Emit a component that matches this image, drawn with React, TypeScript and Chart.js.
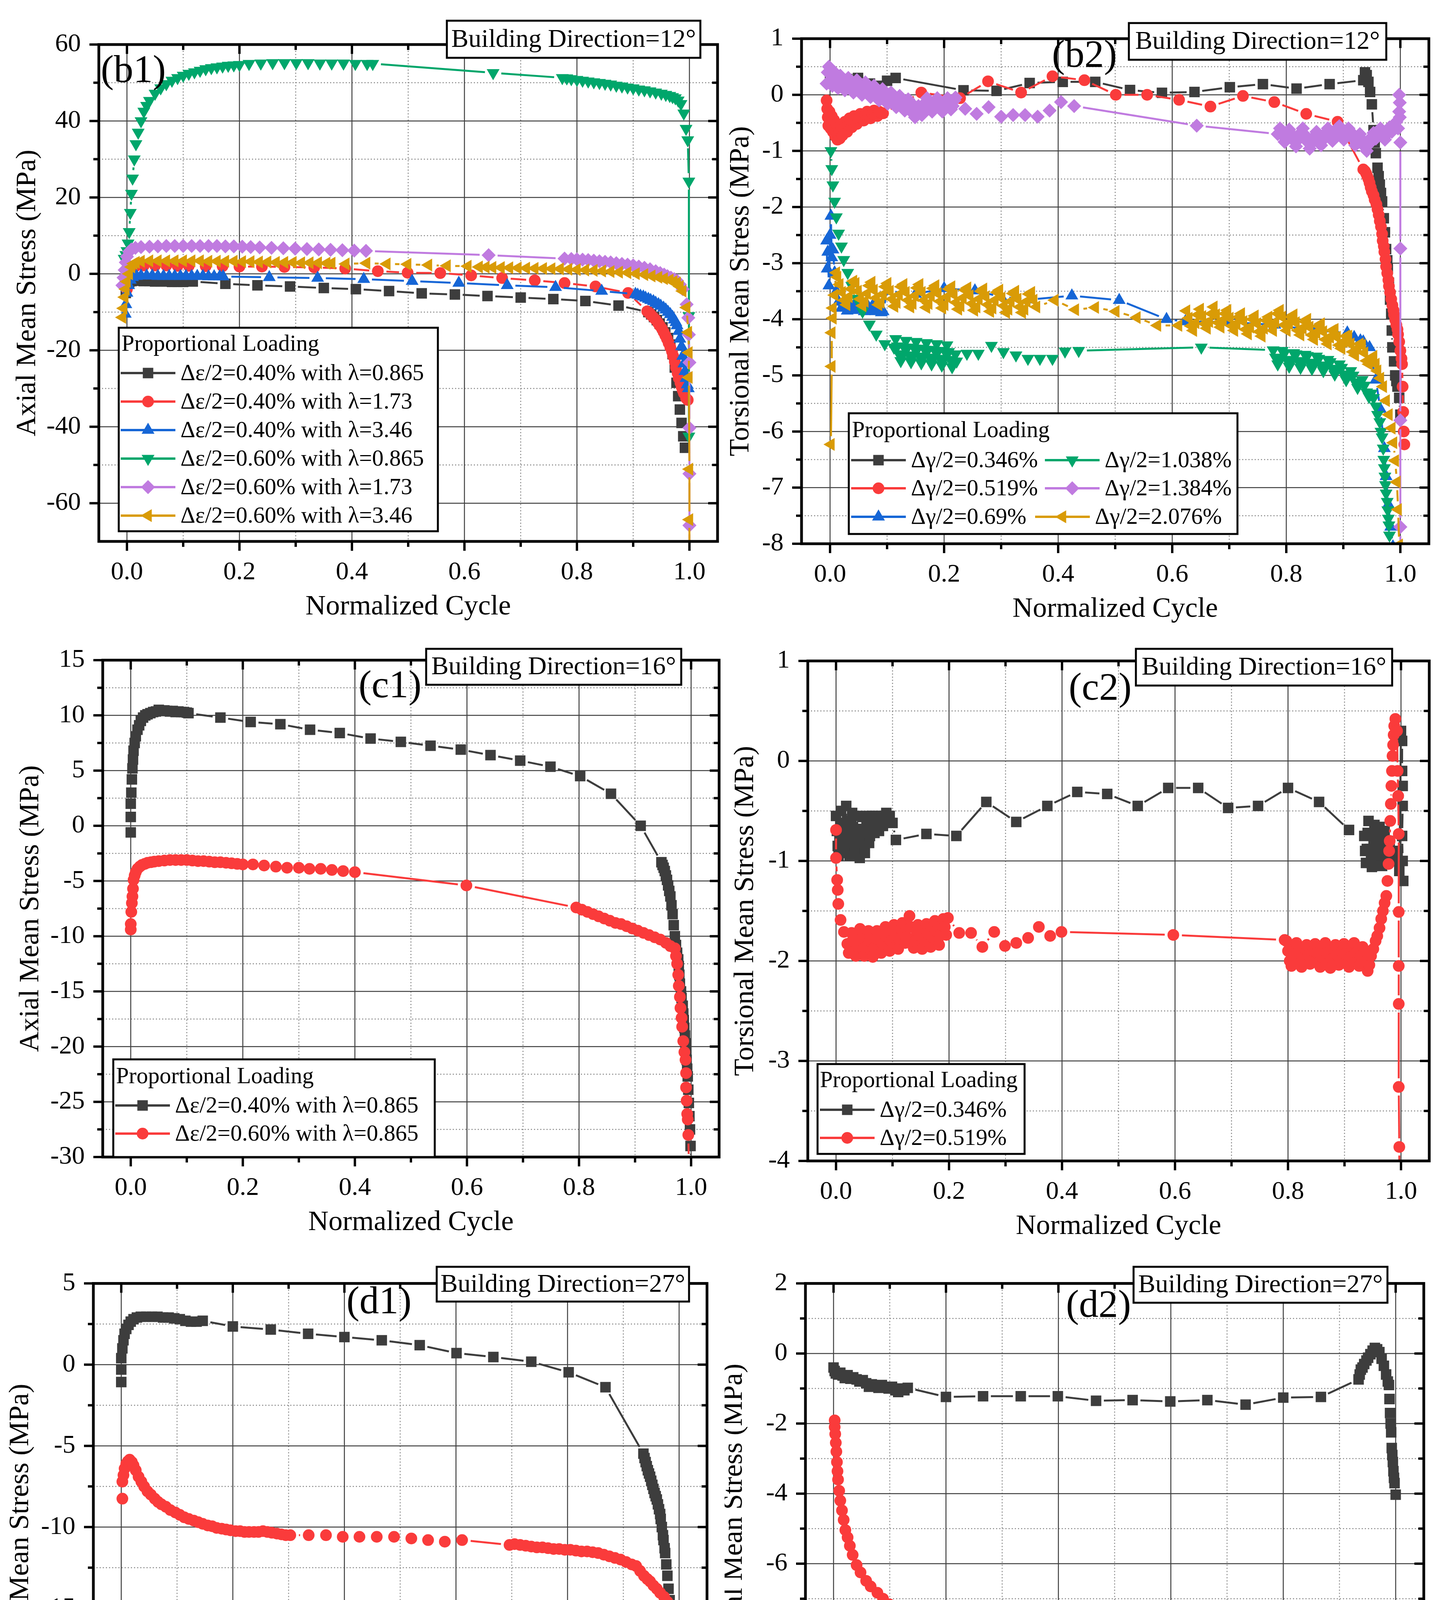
import React, { useEffect, useRef } from 'react';
import { Chart, registerables } from 'chart.js';

Chart.register(...registerables);

type Pt = [number, number];

// ---------- ticks ----------
const xMajor = [0, 0.2, 0.4, 0.6, 0.8, 1.0];
const xMinor = [0.1, 0.3, 0.5, 0.7, 0.9];

const b1YMajor = [-60, -40, -20, 0, 20, 40, 60];
const b1YMinor = [-50, -30, -10, 10, 30, 50];
const b2YMajor = [-8, -7, -6, -5, -4, -3, -2, -1, 0, 1];
const b2YMinor = [-7.5, -6.5, -5.5, -4.5, -3.5, -2.5, -1.5, -0.5, 0.5];
const c1YMajor = [-30, -25, -20, -15, -10, -5, 0, 5, 10, 15];
const c1YMinor = [-27.5, -22.5, -17.5, -12.5, -7.5, -2.5, 2.5, 7.5, 12.5];
const c2YMajor = [-4, -3, -2, -1, 0, 1];
const c2YMinor = [-3.5, -2.5, -1.5, -0.5, 0.5];
const d1YMajor = [-25, -20, -15, -10, -5, 0, 5];
const d1YMinor = [-22.5, -17.5, -12.5, -7.5, -2.5, 2.5];
const d2YMajor = [-12, -10, -8, -6, -4, -2, 0, 2];
const d2YMinor = [-11, -9, -7, -5, -3, -1, 1];

// ---------- (b1) axial, 12 deg ----------
const b1Black: Pt[] = [[-0.002,-5],[0.0,-3],[0.004,-2.2],[0.008,-1.9],[0.012,-1.8],[0.02,-1.8],[0.03,-1.9],[0.04,-1.9],[0.05,-2.0],[0.06,-2.0],[0.07,-2.0],[0.08,-2.1],[0.09,-2.1],[0.1,-2.1],[0.117,-2.0],[0.175,-2.6],[0.232,-3.0],[0.29,-3.3],[0.35,-3.7],[0.407,-4.0],[0.466,-4.5],[0.524,-5.1],[0.583,-5.4],[0.641,-5.8],[0.7,-6.2],[0.758,-6.6],[0.815,-7.1],[0.874,-8.3],[0.927,-10.0],[0.932,-10.6],[0.937,-11.3],[0.942,-12.1],[0.947,-13.0],[0.952,-14.0],[0.957,-15.3],[0.962,-16.8],[0.966,-18.5],[0.97,-21.0],[0.974,-24.5],[0.977,-28.5],[0.98,-32.0],[0.983,-35.5],[0.986,-39.0],[0.989,-42.5],[0.992,-45.5]];
const b1Red: Pt[] = [[0.0,-4],[0.004,0.5],[0.008,1.5],[0.015,2.0],[0.03,2.2],[0.05,2.2],[0.07,2.2],[0.09,2.1],[0.11,2.1],[0.14,2.0],[0.17,2.0],[0.2,1.9],[0.24,1.9],[0.28,1.8],[0.333,1.7],[0.388,1.4],[0.446,0.7],[0.499,0.3],[0.557,0.2],[0.612,-0.4],[0.667,-1.1],[0.725,-1.7],[0.778,-2.4],[0.833,-3.3],[0.891,-5.0],[0.925,-9.8],[0.929,-10.3],[0.932,-10.8],[0.936,-11.4],[0.94,-12.0],[0.944,-12.8],[0.947,-13.5],[0.951,-14.3],[0.954,-15.2],[0.957,-16.1],[0.96,-17.0],[0.963,-18.1],[0.966,-19.2],[0.969,-20.3],[0.971,-21.5],[0.974,-23.0],[0.976,-24.5],[0.979,-26.0],[0.981,-27.3],[0.984,-28.5],[0.986,-29.5],[0.988,-30.4],[0.99,-31.2],[0.994,-32.5],[0.997,-33.0]];
const b1Blue: Pt[] = [[-0.003,-10.5],[-0.002,-8],[0.0,-5],[0.003,-3],[0.006,-1.6],[0.01,-0.9],[0.017,-0.6],[0.025,-0.5],[0.035,-0.5],[0.045,-0.5],[0.055,-0.6],[0.065,-0.6],[0.075,-0.6],[0.085,-0.6],[0.095,-0.6],[0.105,-0.6],[0.115,-0.6],[0.125,-0.6],[0.135,-0.6],[0.145,-0.7],[0.155,-0.7],[0.165,-0.7],[0.171,-0.7],[0.253,-0.9],[0.339,-1.1],[0.421,-1.4],[0.507,-1.9],[0.59,-2.4],[0.676,-3.0],[0.762,-3.5],[0.844,-4.5],[0.904,-5.3],[0.908,-5.5],[0.913,-5.8],[0.918,-6.0],[0.922,-6.3],[0.927,-6.6],[0.931,-6.9],[0.936,-7.2],[0.94,-7.6],[0.945,-8.0],[0.949,-8.4],[0.954,-8.9],[0.958,-9.4],[0.962,-10.0],[0.966,-10.6],[0.97,-11.3],[0.973,-12.0],[0.976,-12.7],[0.978,-13.5],[0.981,-15.0],[0.983,-17.0],[0.986,-19.0],[0.988,-21.5],[0.99,-23.5],[0.992,-25.5],[0.994,-27.3],[0.996,-29.0],[0.998,-30.0]];
const b1Green: Pt[] = [[-0.005,4],[-0.002,5],[0.0,6],[0.002,8],[0.004,11],[0.006,16],[0.008,21],[0.01,25],[0.013,30],[0.016,34],[0.02,37],[0.025,40],[0.03,42.5],[0.035,44],[0.04,45.3],[0.05,47.2],[0.06,48.6],[0.07,49.7],[0.08,50.6],[0.09,51.3],[0.1,51.9],[0.11,52.4],[0.12,52.8],[0.13,53.2],[0.14,53.6],[0.15,53.9],[0.16,54.1],[0.17,54.3],[0.18,54.5],[0.19,54.6],[0.2,54.7],[0.217,55.0],[0.238,55.1],[0.259,55.2],[0.28,55.2],[0.301,55.2],[0.322,55.2],[0.343,55.1],[0.364,55.1],[0.385,55.1],[0.406,55.0],[0.427,55.0],[0.437,55.0],[0.651,52.6],[0.774,51.3],[0.782,51.2],[0.79,51.0],[0.8,50.8],[0.81,50.6],[0.82,50.4],[0.83,50.2],[0.84,50.0],[0.85,49.8],[0.86,49.6],[0.87,49.3],[0.88,49.1],[0.89,48.8],[0.9,48.6],[0.91,48.3],[0.92,48.1],[0.93,47.8],[0.94,47.5],[0.95,47.2],[0.958,46.9],[0.965,46.6],[0.97,46.3],[0.975,46.0],[0.98,45.4],[0.985,44.5],[0.99,42],[0.994,38],[0.997,35],[0.999,24.2],[0.999,-11],[0.999,-42.5]];
const b1Purple: Pt[] = [[-0.008,-3],[-0.006,-1],[-0.004,1],[-0.002,3],[0.0,4.5],[0.004,5.8],[0.008,6.4],[0.015,6.8],[0.025,7.0],[0.04,7.1],[0.055,7.2],[0.07,7.3],[0.085,7.3],[0.1,7.3],[0.115,7.3],[0.13,7.3],[0.145,7.3],[0.16,7.3],[0.175,7.2],[0.19,7.2],[0.205,7.1],[0.22,7.0],[0.236,6.9],[0.257,6.8],[0.278,6.7],[0.299,6.6],[0.32,6.5],[0.341,6.4],[0.362,6.3],[0.383,6.2],[0.404,6.1],[0.425,6.0],[0.643,4.9],[0.778,4.0],[0.79,3.9],[0.8,3.8],[0.81,3.7],[0.82,3.6],[0.83,3.45],[0.84,3.3],[0.85,3.15],[0.86,3.0],[0.87,2.8],[0.88,2.6],[0.89,2.4],[0.9,2.2],[0.91,1.9],[0.92,1.6],[0.93,1.2],[0.94,0.7],[0.948,0.2],[0.955,-0.2],[0.961,-0.6],[0.967,-1.0],[0.973,-1.4],[0.978,-1.8],[0.983,-2.8],[0.988,-4.0],[0.995,-8.0],[0.998,-11.5],[0.999,-15.9],[1.0,-23.2],[1.0,-40.3],[1.0,-52.3],[1.0,-65.8],[1.0,-72]];
const b1Gold: Pt[] = [[-0.008,-11.4],[-0.006,-9],[-0.004,-6.1],[-0.002,-4],[0.0,-2.0],[0.004,0],[0.008,1.8],[0.012,2.7],[0.016,3.0],[0.025,3.3],[0.04,3.4],[0.055,3.4],[0.07,3.4],[0.085,3.4],[0.1,3.4],[0.115,3.4],[0.13,3.4],[0.145,3.3],[0.16,3.3],[0.175,3.3],[0.19,3.3],[0.205,3.2],[0.22,3.2],[0.235,3.1],[0.25,3.1],[0.265,3.0],[0.28,3.0],[0.295,3.0],[0.31,2.9],[0.325,2.9],[0.34,2.9],[0.355,2.8],[0.364,2.8],[0.389,2.6],[0.426,2.8],[0.462,2.6],[0.499,2.5],[0.536,2.3],[0.569,2.1],[0.606,2.0],[0.626,1.8],[0.638,1.75],[0.65,1.7],[0.665,1.65],[0.68,1.6],[0.695,1.55],[0.71,1.5],[0.725,1.45],[0.74,1.4],[0.755,1.35],[0.77,1.3],[0.785,1.2],[0.8,1.1],[0.815,1.0],[0.83,0.9],[0.845,0.75],[0.86,0.6],[0.875,0.45],[0.89,0.3],[0.905,0.05],[0.92,-0.2],[0.933,-0.55],[0.945,-0.9],[0.955,-1.25],[0.965,-1.6],[0.972,-2.0],[0.978,-2.4],[0.983,-3.3],[0.988,-4.5],[0.995,-8.8],[0.998,-15.3],[0.999,-20.6],[0.999,-27.1],[1.0,-51.1],[1.0,-64.3],[1.0,-72]];

// ---------- (b2) torsional, 12 deg ----------
const b2Black: Pt[] = [[0.0,0.35],[0.005,0.3],[0.01,0.25],[0.02,0.2],[0.03,0.28],[0.04,0.25],[0.049,0.3],[0.06,0.15],[0.07,0.2],[0.084,0.16],[0.1,0.25],[0.115,0.3],[0.234,0.08],[0.292,0.07],[0.35,0.21],[0.408,0.23],[0.465,0.23],[0.526,0.085],[0.582,0.035],[0.639,0.05],[0.701,0.135],[0.759,0.19],[0.818,0.11],[0.876,0.19],[0.935,0.26],[0.938,0.4],[0.941,0.35],[0.944,0.23],[0.947,0.05],[0.95,-0.17],[0.953,-0.63],[0.955,-0.85],[0.957,-1.04],[0.96,-1.3],[0.962,-1.45],[0.964,-1.6],[0.966,-1.75],[0.968,-1.9],[0.971,-2.2],[0.973,-2.45],[0.975,-2.75],[0.977,-2.95],[0.978,-3.1],[0.98,-3.35],[0.982,-3.65],[0.984,-3.9],[0.985,-4.2],[0.986,-4.5],[0.989,-4.75],[0.991,-5.0],[0.993,-5.1],[0.995,-5.2],[0.998,-5.4],[1.0,-5.7]];
const b2Red: Pt[] = [[-0.006,-0.1],[-0.005,-0.25],[-0.004,-0.4],[-0.003,-0.55],[-0.002,-0.42],[-0.001,-0.3],[0.0,-0.45],[0.001,-0.6],[0.002,-0.5],[0.003,-0.38],[0.004,-0.52],[0.005,-0.66],[0.006,-0.56],[0.007,-0.45],[0.008,-0.6],[0.009,-0.74],[0.01,-0.64],[0.011,-0.52],[0.012,-0.66],[0.013,-0.8],[0.014,-0.7],[0.015,-0.58],[0.016,-0.68],[0.017,-0.78],[0.018,-0.66],[0.019,-0.54],[0.02,-0.62],[0.022,-0.72],[0.024,-0.6],[0.026,-0.48],[0.028,-0.58],[0.03,-0.66],[0.032,-0.54],[0.034,-0.42],[0.036,-0.5],[0.038,-0.58],[0.04,-0.48],[0.042,-0.38],[0.044,-0.46],[0.047,-0.52],[0.05,-0.42],[0.053,-0.34],[0.056,-0.42],[0.059,-0.46],[0.062,-0.36],[0.065,-0.3],[0.068,-0.38],[0.071,-0.42],[0.074,-0.33],[0.077,-0.28],[0.08,-0.36],[0.083,-0.38],[0.086,-0.3],[0.09,-0.32],[0.093,-0.33],[0.16,0.04],[0.228,-0.06],[0.277,0.24],[0.335,0.04],[0.39,0.33],[0.446,0.26],[0.501,0.0],[0.556,0.0],[0.612,-0.09],[0.667,-0.21],[0.724,-0.02],[0.779,-0.13],[0.835,-0.34],[0.89,-0.48],[0.935,-1.33],[0.938,-1.36],[0.94,-1.4],[0.942,-1.45],[0.944,-1.5],[0.946,-1.57],[0.948,-1.65],[0.95,-1.72],[0.953,-1.79],[0.955,-1.87],[0.958,-1.95],[0.96,-2.04],[0.962,-2.14],[0.964,-2.25],[0.966,-2.35],[0.968,-2.48],[0.969,-2.6],[0.971,-2.7],[0.972,-2.8],[0.974,-2.93],[0.975,-3.06],[0.977,-3.18],[0.979,-3.3],[0.98,-3.41],[0.982,-3.52],[0.984,-3.64],[0.986,-3.75],[0.988,-3.84],[0.989,-3.92],[0.991,-4.01],[0.993,-4.1],[0.995,-4.18],[0.996,-4.27],[0.998,-4.4],[1.0,-4.56],[1.002,-4.7],[1.003,-4.8],[1.004,-5.2],[1.005,-5.65],[1.006,-6.0],[1.007,-6.23]];
const b2Blue: Pt[] = [[-0.006,-2.6],[-0.005,-3.1],[-0.004,-2.8],[-0.002,-3.4],[0.0,-2.5],[0.0015,-2.16],[0.003,-2.9],[0.005,-2.76],[0.008,-3.17],[0.011,-3.5],[0.015,-3.69],[0.02,-3.8],[0.025,-3.7],[0.03,-3.85],[0.035,-3.72],[0.04,-3.84],[0.045,-3.7],[0.05,-3.82],[0.055,-3.72],[0.06,-3.86],[0.065,-3.74],[0.07,-3.84],[0.075,-3.75],[0.08,-3.86],[0.085,-3.76],[0.09,-3.88],[0.093,-3.86],[0.1,-3.5],[0.15,-3.55],[0.2,-3.45],[0.254,-3.49],[0.3,-3.6],[0.35,-3.65],[0.424,-3.58],[0.507,-3.66],[0.59,-4.0],[0.623,-4.04],[0.7,-4.05],[0.78,-4.1],[0.85,-4.2],[0.907,-4.24],[0.919,-4.32],[0.93,-4.38],[0.935,-4.4],[0.946,-4.5],[0.957,-5.08],[0.965,-5.6],[0.972,-6.3],[0.975,-6.8],[0.979,-7.3],[0.983,-7.7],[0.987,-8.05]];
const b2Green: Pt[] = [[0.0015,-1.0],[0.003,-1.32],[0.005,-1.61],[0.008,-1.9],[0.011,-2.18],[0.015,-2.47],[0.02,-2.7],[0.024,-2.94],[0.031,-3.17],[0.038,-3.4],[0.047,-3.63],[0.057,-3.86],[0.069,-4.09],[0.081,-4.27],[0.096,-4.44],[0.112,-4.5],[0.115,-4.35],[0.118,-4.48],[0.121,-4.62],[0.124,-4.74],[0.127,-4.64],[0.13,-4.5],[0.133,-4.38],[0.136,-4.5],[0.139,-4.64],[0.142,-4.76],[0.145,-4.66],[0.148,-4.52],[0.151,-4.4],[0.154,-4.52],[0.157,-4.66],[0.16,-4.78],[0.163,-4.68],[0.166,-4.54],[0.169,-4.42],[0.172,-4.54],[0.175,-4.68],[0.178,-4.8],[0.181,-4.7],[0.184,-4.56],[0.187,-4.44],[0.19,-4.56],[0.193,-4.7],[0.196,-4.82],[0.199,-4.72],[0.202,-4.58],[0.205,-4.46],[0.208,-4.58],[0.211,-4.72],[0.214,-4.85],[0.217,-4.75],[0.22,-4.62],[0.222,-4.75],[0.24,-4.61],[0.26,-4.61],[0.283,-4.47],[0.304,-4.58],[0.326,-4.64],[0.347,-4.7],[0.368,-4.7],[0.39,-4.7],[0.412,-4.57],[0.436,-4.56],[0.651,-4.5],[0.777,-4.55],[0.781,-4.68],[0.785,-4.8],[0.789,-4.7],[0.793,-4.56],[0.797,-4.6],[0.801,-4.72],[0.805,-4.84],[0.809,-4.74],[0.813,-4.6],[0.817,-4.62],[0.821,-4.74],[0.825,-4.86],[0.829,-4.76],[0.833,-4.63],[0.837,-4.65],[0.841,-4.77],[0.845,-4.88],[0.849,-4.78],[0.853,-4.66],[0.857,-4.7],[0.861,-4.82],[0.865,-4.92],[0.869,-4.82],[0.873,-4.72],[0.877,-4.76],[0.881,-4.88],[0.885,-4.98],[0.889,-4.88],[0.893,-4.8],[0.897,-4.86],[0.901,-4.98],[0.905,-5.08],[0.909,-4.98],[0.913,-4.92],[0.917,-5.0],[0.921,-5.12],[0.925,-5.22],[0.929,-5.14],[0.933,-5.08],[0.937,-5.18],[0.941,-5.3],[0.945,-5.38],[0.949,-5.32],[0.953,-5.4],[0.957,-5.55],[0.96,-5.7],[0.964,-5.83],[0.966,-6.0],[0.968,-6.1],[0.97,-6.3],[0.971,-6.5],[0.972,-6.65],[0.973,-6.8],[0.974,-6.95],[0.975,-7.1],[0.977,-7.25],[0.978,-7.4],[0.979,-7.55],[0.98,-7.67],[0.981,-7.85],[0.982,-8.06]];
const b2Purple: Pt[] = [[-0.006,0.2],[-0.004,0.4],[-0.002,0.5],[0.0,0.38],[0.002,0.26],[0.004,0.16],[0.006,0.28],[0.008,0.4],[0.01,0.34],[0.012,0.22],[0.014,0.12],[0.016,0.22],[0.018,0.34],[0.02,0.3],[0.023,0.18],[0.026,0.08],[0.029,0.18],[0.032,0.3],[0.035,0.26],[0.038,0.14],[0.041,0.04],[0.044,0.14],[0.047,0.26],[0.05,0.22],[0.053,0.1],[0.056,0.0],[0.059,0.1],[0.062,0.22],[0.065,0.18],[0.068,0.06],[0.071,-0.04],[0.074,0.06],[0.077,0.16],[0.08,0.12],[0.083,0.0],[0.086,-0.1],[0.089,0.0],[0.092,0.1],[0.095,0.06],[0.098,-0.06],[0.101,-0.16],[0.104,-0.06],[0.107,0.04],[0.11,0.0],[0.113,-0.12],[0.116,-0.22],[0.119,-0.12],[0.122,-0.02],[0.125,-0.06],[0.128,-0.18],[0.131,-0.28],[0.134,-0.18],[0.137,-0.08],[0.14,-0.12],[0.143,-0.24],[0.146,-0.34],[0.149,-0.4],[0.152,-0.3],[0.155,-0.2],[0.158,-0.26],[0.161,-0.36],[0.164,-0.26],[0.167,-0.14],[0.17,-0.06],[0.173,-0.16],[0.176,-0.26],[0.179,-0.3],[0.182,-0.2],[0.185,-0.1],[0.188,-0.06],[0.191,-0.16],[0.194,-0.26],[0.197,-0.3],[0.2,-0.2],[0.203,-0.1],[0.206,-0.06],[0.209,-0.16],[0.212,-0.26],[0.215,-0.2],[0.218,-0.1],[0.22,-0.05],[0.237,-0.25],[0.257,-0.34],[0.278,-0.22],[0.3,-0.39],[0.321,-0.36],[0.342,-0.36],[0.364,-0.39],[0.385,-0.28],[0.405,-0.13],[0.428,-0.2],[0.643,-0.55],[0.785,-0.7],[0.789,-0.6],[0.793,-0.72],[0.797,-0.84],[0.801,-0.74],[0.805,-0.62],[0.809,-0.7],[0.813,-0.82],[0.817,-0.92],[0.821,-0.8],[0.825,-0.68],[0.829,-0.6],[0.833,-0.72],[0.837,-0.84],[0.841,-0.96],[0.845,-0.86],[0.849,-0.74],[0.853,-0.66],[0.857,-0.78],[0.861,-0.9],[0.865,-0.8],[0.869,-0.68],[0.873,-0.6],[0.877,-0.7],[0.881,-0.82],[0.885,-0.72],[0.889,-0.6],[0.893,-0.56],[0.897,-0.68],[0.901,-0.8],[0.905,-0.72],[0.909,-0.6],[0.913,-0.66],[0.917,-0.78],[0.921,-0.9],[0.925,-0.82],[0.929,-0.7],[0.933,-0.8],[0.937,-0.92],[0.941,-1.0],[0.945,-0.88],[0.949,-0.76],[0.953,-0.68],[0.957,-0.78],[0.961,-0.7],[0.965,-0.6],[0.969,-0.7],[0.973,-0.8],[0.977,-0.7],[0.981,-0.58],[0.985,-0.66],[0.989,-0.54],[0.993,-0.48],[0.996,-0.6],[0.998,-0.3],[0.998,0.0],[0.999,-0.14],[0.999,-0.4],[1.0,-0.85],[1.0,-2.74],[1.0,-5.8],[1.0,-7.7],[1.0,-8.1]];
const b2Gold: Pt[] = [[0.0015,-6.23],[0.003,-4.84],[0.003,-4.24],[0.005,-3.98],[0.005,-3.8],[0.008,-3.57],[0.011,-3.17],[0.013,-3.25],[0.017,-3.38],[0.021,-3.52],[0.025,-3.66],[0.029,-3.74],[0.033,-3.6],[0.037,-3.46],[0.041,-3.32],[0.045,-3.36],[0.049,-3.5],[0.053,-3.64],[0.057,-3.76],[0.061,-3.68],[0.065,-3.54],[0.069,-3.4],[0.073,-3.34],[0.077,-3.48],[0.081,-3.62],[0.085,-3.74],[0.089,-3.7],[0.093,-3.56],[0.097,-3.42],[0.101,-3.36],[0.105,-3.5],[0.109,-3.64],[0.113,-3.77],[0.117,-3.7],[0.121,-3.56],[0.125,-3.42],[0.129,-3.38],[0.133,-3.52],[0.137,-3.66],[0.141,-3.78],[0.145,-3.72],[0.149,-3.58],[0.153,-3.44],[0.157,-3.38],[0.161,-3.52],[0.165,-3.66],[0.169,-3.79],[0.173,-3.72],[0.177,-3.58],[0.181,-3.45],[0.185,-3.4],[0.189,-3.54],[0.193,-3.68],[0.197,-3.8],[0.201,-3.74],[0.205,-3.6],[0.209,-3.46],[0.213,-3.42],[0.217,-3.56],[0.221,-3.7],[0.225,-3.82],[0.229,-3.76],[0.233,-3.62],[0.237,-3.48],[0.241,-3.44],[0.245,-3.58],[0.249,-3.72],[0.253,-3.84],[0.257,-3.78],[0.261,-3.64],[0.265,-3.5],[0.269,-3.46],[0.273,-3.6],[0.277,-3.74],[0.281,-3.86],[0.285,-3.8],[0.289,-3.66],[0.293,-3.52],[0.297,-3.48],[0.301,-3.62],[0.305,-3.76],[0.309,-3.88],[0.313,-3.82],[0.317,-3.68],[0.321,-3.54],[0.325,-3.5],[0.329,-3.64],[0.333,-3.78],[0.337,-3.88],[0.341,-3.82],[0.345,-3.68],[0.349,-3.55],[0.353,-3.52],[0.357,-3.66],[0.362,-3.78],[0.394,-3.66],[0.43,-3.83],[0.465,-3.79],[0.501,-3.86],[0.538,-3.97],[0.574,-4.11],[0.611,-4.11],[0.625,-3.85],[0.629,-3.98],[0.633,-4.12],[0.637,-4.2],[0.641,-4.06],[0.645,-3.92],[0.649,-3.82],[0.653,-3.95],[0.657,-4.08],[0.661,-4.16],[0.665,-4.04],[0.669,-3.9],[0.673,-3.78],[0.677,-3.92],[0.681,-4.06],[0.685,-4.14],[0.689,-4.02],[0.693,-3.9],[0.697,-3.84],[0.701,-3.98],[0.705,-4.12],[0.709,-4.2],[0.713,-4.08],[0.717,-3.96],[0.721,-3.9],[0.725,-4.04],[0.729,-4.18],[0.733,-4.26],[0.737,-4.14],[0.741,-4.0],[0.745,-3.94],[0.749,-4.08],[0.753,-4.22],[0.757,-4.3],[0.761,-4.16],[0.765,-4.02],[0.769,-3.96],[0.773,-4.1],[0.777,-4.2],[0.781,-4.05],[0.785,-3.9],[0.789,-3.84],[0.793,-3.96],[0.797,-4.1],[0.801,-4.2],[0.805,-4.08],[0.809,-3.96],[0.813,-3.92],[0.817,-4.06],[0.821,-4.2],[0.825,-4.28],[0.829,-4.16],[0.833,-4.04],[0.837,-4.0],[0.841,-4.14],[0.845,-4.28],[0.849,-4.36],[0.853,-4.24],[0.857,-4.12],[0.861,-4.08],[0.865,-4.22],[0.869,-4.36],[0.873,-4.44],[0.877,-4.32],[0.881,-4.2],[0.885,-4.18],[0.889,-4.32],[0.893,-4.46],[0.897,-4.52],[0.901,-4.4],[0.905,-4.3],[0.909,-4.3],[0.913,-4.44],[0.917,-4.58],[0.921,-4.64],[0.925,-4.52],[0.929,-4.44],[0.933,-4.46],[0.937,-4.6],[0.941,-4.74],[0.945,-4.8],[0.949,-4.7],[0.953,-4.66],[0.957,-4.8],[0.96,-4.92],[0.965,-5.05],[0.97,-5.2],[0.975,-5.45],[0.98,-5.7],[0.985,-5.94],[0.988,-6.2],[0.991,-6.52],[0.994,-6.9],[0.996,-7.39],[0.998,-8.02]];

// ---------- (c1) axial, 16 deg ----------
const c1Black: Pt[] = [[0.0,-0.6],[0.0,0.8],[0.0,2.0],[0.001,3.0],[0.002,4.2],[0.003,5.2],[0.004,6.0],[0.005,6.8],[0.007,7.5],[0.009,8.1],[0.012,8.7],[0.015,9.1],[0.018,9.5],[0.022,9.8],[0.026,10.0],[0.03,10.1],[0.035,10.2],[0.04,10.3],[0.045,10.35],[0.05,10.5],[0.055,10.4],[0.06,10.45],[0.065,10.4],[0.07,10.35],[0.075,10.4],[0.08,10.3],[0.085,10.35],[0.09,10.3],[0.095,10.3],[0.1,10.25],[0.103,10.2],[0.16,9.8],[0.214,9.4],[0.267,9.2],[0.32,8.7],[0.373,8.4],[0.428,7.9],[0.482,7.6],[0.535,7.25],[0.589,6.9],[0.642,6.4],[0.695,5.9],[0.749,5.35],[0.802,4.5],[0.857,2.9],[0.91,0.0],[0.947,-3.3],[0.949,-3.55],[0.951,-3.8],[0.953,-4.1],[0.955,-4.5],[0.957,-4.9],[0.959,-5.4],[0.961,-5.9],[0.963,-6.4],[0.965,-7.2],[0.967,-8.0],[0.969,-9.0],[0.971,-10.0],[0.973,-10.8],[0.975,-11.5],[0.977,-12.1],[0.978,-12.7],[0.979,-13.5],[0.98,-14.3],[0.982,-15.0],[0.983,-15.6],[0.985,-16.3],[0.986,-17.0],[0.987,-17.6],[0.988,-18.3],[0.989,-19.0],[0.99,-19.7],[0.991,-20.4],[0.992,-21.2],[0.993,-22.0],[0.994,-22.7],[0.995,-23.9],[0.996,-25.1],[0.997,-26.3],[0.998,-27.5],[0.999,-29.0],[1.0,-30.5]];
const c1Red: Pt[] = [[0.0,-9.4],[0.0,-8.9],[0.001,-7.8],[0.002,-7.0],[0.003,-6.4],[0.004,-5.7],[0.005,-4.9],[0.007,-4.5],[0.009,-4.2],[0.012,-3.9],[0.016,-3.7],[0.02,-3.55],[0.025,-3.45],[0.03,-3.35],[0.036,-3.3],[0.042,-3.25],[0.05,-3.2],[0.06,-3.15],[0.07,-3.1],[0.08,-3.1],[0.09,-3.1],[0.1,-3.1],[0.11,-3.15],[0.12,-3.2],[0.13,-3.2],[0.14,-3.25],[0.15,-3.3],[0.16,-3.3],[0.17,-3.35],[0.18,-3.4],[0.19,-3.45],[0.2,-3.5],[0.218,-3.5],[0.238,-3.6],[0.259,-3.7],[0.279,-3.8],[0.3,-3.8],[0.319,-3.9],[0.339,-3.9],[0.359,-4.0],[0.379,-4.1],[0.4,-4.2],[0.599,-5.4],[0.795,-7.4],[0.805,-7.6],[0.815,-7.8],[0.825,-8.0],[0.835,-8.2],[0.845,-8.4],[0.855,-8.6],[0.865,-8.8],[0.875,-8.9],[0.885,-9.1],[0.895,-9.3],[0.905,-9.5],[0.915,-9.7],[0.925,-9.9],[0.935,-10.1],[0.945,-10.3],[0.955,-10.6],[0.963,-10.9],[0.971,-11.1],[0.973,-11.8],[0.975,-12.5],[0.977,-13.5],[0.978,-14.5],[0.98,-15.5],[0.981,-16.5],[0.983,-17.4],[0.984,-18.2],[0.986,-19.5],[0.988,-20.5],[0.99,-21.2],[0.991,-22.4],[0.991,-23.7],[0.992,-24.9],[0.993,-26.1],[0.994,-26.6],[0.995,-28.0],[0.996,-30.5]];

// ---------- (c2) torsional, 16 deg ----------
const c2Black: Pt[] = [[0.0,-0.55],[0.0015,-0.7],[0.003,-0.85],[0.0045,-0.95],[0.006,-0.8],[0.0075,-0.65],[0.009,-0.5],[0.0105,-0.62],[0.012,-0.78],[0.0135,-0.92],[0.015,-0.82],[0.0165,-0.68],[0.018,-0.45],[0.0195,-0.6],[0.021,-0.75],[0.0225,-0.9],[0.024,-0.95],[0.0255,-0.8],[0.027,-0.65],[0.0285,-0.52],[0.03,-0.66],[0.0315,-0.8],[0.033,-0.93],[0.0345,-0.85],[0.036,-0.7],[0.0375,-0.55],[0.039,-0.68],[0.0405,-0.82],[0.042,-0.97],[0.0435,-0.84],[0.045,-0.7],[0.0465,-0.56],[0.048,-0.72],[0.0495,-0.88],[0.051,-0.92],[0.0525,-0.78],[0.054,-0.62],[0.0555,-0.55],[0.057,-0.7],[0.0585,-0.82],[0.06,-0.75],[0.062,-0.62],[0.064,-0.55],[0.066,-0.66],[0.068,-0.72],[0.07,-0.6],[0.072,-0.55],[0.074,-0.65],[0.076,-0.7],[0.078,-0.6],[0.08,-0.55],[0.083,-0.65],[0.086,-0.58],[0.089,-0.52],[0.092,-0.6],[0.095,-0.55],[0.1,-0.62],[0.106,-0.79],[0.16,-0.73],[0.213,-0.75],[0.266,-0.41],[0.319,-0.61],[0.374,-0.45],[0.427,-0.31],[0.48,-0.33],[0.534,-0.45],[0.588,-0.27],[0.641,-0.27],[0.694,-0.47],[0.747,-0.45],[0.8,-0.27],[0.855,-0.41],[0.908,-0.69],[0.935,-0.75],[0.9365,-0.9],[0.938,-1.02],[0.9395,-0.88],[0.941,-0.72],[0.9425,-0.6],[0.944,-0.74],[0.9455,-0.88],[0.947,-1.0],[0.9485,-1.06],[0.95,-0.92],[0.9515,-0.78],[0.953,-0.64],[0.9545,-0.76],[0.956,-0.9],[0.9575,-1.04],[0.959,-0.95],[0.9605,-0.8],[0.962,-0.66],[0.9635,-0.8],[0.965,-0.94],[0.9665,-1.05],[0.968,-0.92],[0.9695,-0.78],[0.971,-0.7],[0.9725,-0.84],[0.974,-0.98],[0.9755,-0.9],[0.977,-0.8],[0.98,-0.85],[0.985,-0.9],[0.99,-1.0],[0.994,-0.9],[0.997,-1.1],[1.0,0.3],[1.002,0.2],[1.002,-0.1],[1.003,-0.25],[1.003,-0.45],[1.002,-0.75],[1.003,-1.0],[1.004,-1.2]];
const c2Red: Pt[] = [[0.0,-0.69],[0.0,-0.97],[0.002,-1.19],[0.003,-1.29],[0.004,-1.43],[0.008,-1.59],[0.014,-1.71],[0.02,-1.83],[0.0225,-1.92],[0.025,-1.82],[0.0275,-1.72],[0.03,-1.8],[0.0325,-1.9],[0.035,-1.95],[0.0375,-1.85],[0.04,-1.75],[0.0425,-1.68],[0.045,-1.78],[0.0475,-1.88],[0.05,-1.95],[0.0525,-1.86],[0.055,-1.76],[0.0575,-1.7],[0.06,-1.8],[0.0625,-1.9],[0.065,-1.96],[0.0675,-1.87],[0.07,-1.77],[0.0725,-1.7],[0.075,-1.79],[0.0775,-1.88],[0.08,-1.92],[0.0825,-1.83],[0.085,-1.73],[0.0875,-1.66],[0.09,-1.76],[0.0925,-1.85],[0.095,-1.9],[0.0975,-1.8],[0.1,-1.7],[0.1025,-1.64],[0.105,-1.74],[0.1075,-1.84],[0.11,-1.88],[0.1125,-1.78],[0.115,-1.68],[0.1175,-1.62],[0.12,-1.72],[0.1225,-1.82],[0.125,-1.76],[0.1275,-1.65],[0.13,-1.55],[0.1325,-1.66],[0.135,-1.78],[0.1375,-1.87],[0.14,-1.8],[0.1425,-1.7],[0.145,-1.64],[0.1475,-1.74],[0.15,-1.84],[0.1525,-1.88],[0.155,-1.78],[0.1575,-1.68],[0.16,-1.63],[0.1625,-1.73],[0.165,-1.83],[0.1675,-1.86],[0.17,-1.76],[0.1725,-1.66],[0.175,-1.6],[0.1775,-1.7],[0.18,-1.8],[0.1825,-1.84],[0.185,-1.74],[0.1875,-1.64],[0.19,-1.58],[0.1925,-1.66],[0.195,-1.74],[0.198,-1.57],[0.218,-1.72],[0.239,-1.72],[0.259,-1.86],[0.28,-1.71],[0.299,-1.85],[0.319,-1.82],[0.34,-1.77],[0.359,-1.66],[0.379,-1.75],[0.399,-1.71],[0.597,-1.74],[0.794,-1.79],[0.797,-1.8],[0.8,-1.9],[0.803,-2.0],[0.806,-2.05],[0.809,-1.96],[0.812,-1.87],[0.815,-1.82],[0.818,-1.92],[0.821,-2.02],[0.824,-2.06],[0.827,-1.97],[0.83,-1.88],[0.833,-1.84],[0.836,-1.94],[0.839,-2.03],[0.842,-2.0],[0.845,-1.9],[0.848,-1.83],[0.851,-1.92],[0.854,-2.02],[0.857,-2.06],[0.86,-1.96],[0.863,-1.86],[0.866,-1.82],[0.869,-1.92],[0.872,-2.02],[0.875,-2.07],[0.878,-1.98],[0.881,-1.88],[0.884,-1.84],[0.887,-1.94],[0.89,-2.04],[0.893,-2.0],[0.896,-1.9],[0.899,-1.83],[0.902,-1.93],[0.905,-2.03],[0.908,-2.06],[0.911,-1.96],[0.914,-1.86],[0.917,-1.82],[0.92,-1.92],[0.923,-2.02],[0.926,-2.05],[0.929,-1.95],[0.932,-1.86],[0.935,-1.9],[0.938,-2.0],[0.941,-2.1],[0.944,-2.04],[0.947,-1.95],[0.951,-1.88],[0.955,-1.8],[0.958,-1.75],[0.962,-1.67],[0.965,-1.58],[0.968,-1.5],[0.971,-1.42],[0.974,-1.35],[0.976,-1.2],[0.978,-1.03],[0.979,-0.9],[0.98,-0.8],[0.981,-0.6],[0.982,-0.43],[0.983,-0.25],[0.984,-0.1],[0.985,0.05],[0.986,0.16],[0.987,0.26],[0.988,0.35],[0.99,0.42],[0.993,0.3],[0.994,-0.1],[0.995,-0.35],[0.996,-0.73],[0.996,-1.51],[0.996,-2.05],[0.996,-2.43],[0.996,-3.26],[0.997,-3.86],[0.997,-4.1]];

// ---------- (d1) axial, 27 deg ----------
const d1Black: Pt[] = [[0.0,-1.07],[0.0,-0.3],[0.0,0.4],[0.002,1.0],[0.004,1.5],[0.006,1.9],[0.009,2.2],[0.013,2.45],[0.017,2.65],[0.022,2.8],[0.028,2.9],[0.035,2.95],[0.045,2.95],[0.055,2.95],[0.065,2.95],[0.075,2.9],[0.085,2.9],[0.095,2.85],[0.105,2.8],[0.115,2.7],[0.125,2.65],[0.135,2.65],[0.146,2.7],[0.2,2.35],[0.268,2.16],[0.335,1.9],[0.4,1.7],[0.467,1.5],[0.535,1.2],[0.601,0.71],[0.667,0.47],[0.735,0.18],[0.802,-0.47],[0.868,-1.39],[0.936,-5.48],[0.938,-5.75],[0.94,-6.0],[0.942,-6.25],[0.944,-6.5],[0.946,-6.7],[0.948,-6.9],[0.95,-7.15],[0.952,-7.4],[0.954,-7.65],[0.956,-7.9],[0.958,-8.1],[0.96,-8.3],[0.962,-8.6],[0.964,-8.9],[0.966,-9.2],[0.967,-9.5],[0.969,-10.0],[0.971,-10.5],[0.972,-10.8],[0.974,-11.3],[0.975,-11.6],[0.977,-12.3],[0.979,-13.0],[0.981,-13.8],[0.983,-14.5],[0.985,-15.2],[0.986,-15.8],[0.987,-16.3],[0.988,-16.9],[0.989,-17.4],[0.99,-18.0],[0.991,-18.6],[0.992,-19.2],[0.993,-19.8],[0.994,-20.5],[0.995,-21.2],[0.996,-22.4],[0.997,-23.6],[0.998,-25.2]];
const d1Red: Pt[] = [[0.002,-8.25],[0.002,-7.2],[0.004,-6.8],[0.006,-6.4],[0.009,-6.1],[0.012,-5.95],[0.015,-5.85],[0.019,-6.0],[0.022,-6.2],[0.026,-6.5],[0.031,-6.9],[0.036,-7.2],[0.041,-7.5],[0.047,-7.8],[0.053,-8.0],[0.06,-8.25],[0.066,-8.45],[0.072,-8.6],[0.08,-8.75],[0.088,-8.95],[0.097,-9.1],[0.105,-9.25],[0.113,-9.4],[0.121,-9.5],[0.13,-9.6],[0.138,-9.7],[0.146,-9.8],[0.155,-9.9],[0.163,-9.95],[0.171,-10.05],[0.18,-10.1],[0.188,-10.15],[0.196,-10.2],[0.205,-10.25],[0.213,-10.25],[0.221,-10.3],[0.229,-10.3],[0.238,-10.3],[0.246,-10.3],[0.254,-10.25],[0.262,-10.3],[0.27,-10.35],[0.279,-10.4],[0.287,-10.45],[0.295,-10.5],[0.303,-10.5],[0.336,-10.5],[0.367,-10.5],[0.397,-10.6],[0.427,-10.6],[0.458,-10.6],[0.489,-10.6],[0.52,-10.7],[0.55,-10.8],[0.58,-10.9],[0.611,-10.8],[0.696,-11.1],[0.705,-11.05],[0.715,-11.1],[0.725,-11.15],[0.735,-11.2],[0.745,-11.25],[0.755,-11.25],[0.765,-11.3],[0.775,-11.35],[0.785,-11.35],[0.795,-11.4],[0.805,-11.4],[0.815,-11.45],[0.825,-11.5],[0.835,-11.5],[0.845,-11.55],[0.855,-11.6],[0.865,-11.7],[0.875,-11.8],[0.885,-11.9],[0.895,-12.0],[0.905,-12.15],[0.915,-12.3],[0.923,-12.4],[0.93,-12.7],[0.937,-13.0],[0.943,-13.2],[0.948,-13.35],[0.954,-13.6],[0.96,-13.8],[0.966,-14.05],[0.973,-14.3],[0.979,-14.6],[0.985,-14.9],[0.989,-15.2],[0.991,-15.6],[0.993,-16.0],[0.993,-16.6],[0.994,-17.4],[0.995,-18.6],[0.996,-19.6],[0.997,-20.4],[0.997,-21.3],[0.998,-22.5],[0.999,-23.8],[1.0,-25.5]];

// ---------- (d2) torsional, 27 deg ----------
const d2Black: Pt[] = [[0.0,-0.4],[0.002,-0.5],[0.004,-0.57],[0.008,-0.6],[0.012,-0.55],[0.016,-0.63],[0.02,-0.7],[0.025,-0.62],[0.03,-0.72],[0.035,-0.68],[0.041,-0.74],[0.046,-0.8],[0.052,-0.76],[0.058,-0.85],[0.063,-0.95],[0.068,-0.88],[0.074,-0.92],[0.08,-0.98],[0.086,-0.9],[0.092,-0.96],[0.098,-1.0],[0.104,-0.95],[0.11,-1.05],[0.115,-1.1],[0.12,-1.0],[0.126,-1.05],[0.132,-0.98],[0.2,-1.24],[0.266,-1.22],[0.333,-1.22],[0.399,-1.22],[0.467,-1.35],[0.532,-1.33],[0.599,-1.37],[0.665,-1.33],[0.733,-1.46],[0.8,-1.26],[0.867,-1.24],[0.934,-0.74],[0.936,-0.6],[0.938,-0.46],[0.941,-0.4],[0.944,-0.3],[0.948,-0.2],[0.951,-0.12],[0.955,-0.02],[0.959,0.08],[0.963,0.16],[0.967,0.12],[0.971,0.04],[0.975,-0.15],[0.979,-0.35],[0.983,-0.6],[0.986,-0.8],[0.988,-0.9],[0.989,-1.3],[0.99,-1.7],[0.991,-2.0],[0.992,-2.25],[0.993,-2.7],[0.994,-2.9],[0.995,-3.1],[0.996,-3.36],[0.997,-3.55],[0.998,-3.7],[1.0,-4.03]];
const d2Red: Pt[] = [[0.002,-1.91],[0.002,-2.1],[0.003,-2.3],[0.004,-2.55],[0.005,-2.8],[0.006,-3.1],[0.007,-3.36],[0.008,-3.6],[0.01,-3.92],[0.012,-4.2],[0.015,-4.48],[0.018,-4.75],[0.021,-5.04],[0.025,-5.25],[0.029,-5.49],[0.034,-5.75],[0.041,-6.04],[0.048,-6.25],[0.058,-6.49],[0.066,-6.65],[0.078,-6.83],[0.088,-7.0],[0.099,-7.16],[0.11,-7.3],[0.128,-7.5],[0.14,-7.62],[0.156,-7.78],[0.17,-7.88],[0.185,-8.0],[0.195,-8.08],[0.2,-8.17],[0.21,-8.15],[0.22,-8.25],[0.23,-8.2],[0.24,-8.3],[0.25,-8.18],[0.26,-8.26],[0.27,-8.2],[0.28,-8.3],[0.29,-8.22],[0.3,-8.33],[0.305,-8.42],[0.336,-8.22],[0.366,-8.39],[0.397,-8.28],[0.426,-8.22],[0.457,-8.26],[0.488,-8.17],[0.519,-8.2],[0.549,-8.22],[0.579,-8.3],[0.609,-8.2],[0.695,-8.28],[0.7,-8.4],[0.708,-8.2],[0.716,-8.35],[0.724,-8.15],[0.732,-8.3],[0.74,-8.2],[0.749,-8.22],[0.757,-8.12],[0.765,-8.25],[0.773,-8.15],[0.781,-8.28],[0.79,-8.2],[0.8,-8.12],[0.81,-8.25],[0.82,-8.2],[0.831,-8.14],[0.84,-8.28],[0.85,-8.2],[0.86,-8.3],[0.872,-8.22],[0.882,-8.15],[0.892,-8.27],[0.903,-8.2],[0.914,-8.17],[0.922,-8.25],[0.93,-8.3],[0.938,-8.34],[0.946,-8.42],[0.955,-8.45],[0.963,-8.5],[0.972,-8.45],[0.979,-8.39],[0.984,-8.5],[0.988,-8.73],[0.99,-8.9],[0.992,-9.06],[0.993,-9.5],[0.993,-9.84],[0.994,-10.3],[0.994,-11.3],[0.995,-12.2]];

// ---------- styles ----------
const SERIF = "'Liberation Serif', 'Times New Roman', Times, serif";
const LOOK: any = {
  black: { color: '#3d3d3d', shape: 'rect', rot: 0, r: 19, gap: 20 },
  red: { color: '#fa3b3b', shape: 'circle', rot: 0, r: 15, gap: 22 },
  blue: { color: '#1666d6', shape: 'triangle', rot: 0, r: 19, gap: 21 },
  green: { color: '#00a66b', shape: 'triangle', rot: 180, r: 19, gap: 21 },
  purple: { color: '#c07be0', shape: 'rectRot', rot: 0, r: 18, gap: 23 },
  gold: { color: '#d99b06', shape: 'triangle', rot: 270, r: 19, gap: 21 },
};

const AXIAL = 'Axial Mean Stress (MPa)';
const TORS = 'Torsional Mean Stress (MPa)';

const PANELS: any[] = [
  {
    id: 'b1', box: [0, 0, 1860, 1600], plot: [253, 114, 1837, 1386], y: [-70, 60], yMajor: b1YMajor, yMinor: b1YMinor,
    yTitle: AXIAL, yTitleX: 71, tag: '(b1)', tagPos: [258, 184], bd: 'Building Direction=12°', bdBox: [1144, 53, 1793, 148],
    legBox: [304, 839, 1121, 1360], legTitle: [311, 882],
    series: [
      { k: 'black', label: 'Δε/2=0.40% with λ=0.865', data: b1Black, lx: 309, ly: 955 },
      { k: 'red', label: 'Δε/2=0.40% with λ=1.73', data: b1Red, lx: 309, ly: 1028 },
      { k: 'blue', label: 'Δε/2=0.40% with λ=3.46', data: b1Blue, lx: 309, ly: 1101 },
      { k: 'green', label: 'Δε/2=0.60% with λ=0.865', data: b1Green, lx: 309, ly: 1174 },
      { k: 'purple', label: 'Δε/2=0.60% with λ=1.73', data: b1Purple, lx: 309, ly: 1247 },
      { k: 'gold', label: 'Δε/2=0.60% with λ=3.46', data: b1Gold, lx: 309, ly: 1320 },
    ],
  },
  {
    id: 'b2', box: [1855, 0, 1852, 1600], plot: [2052, 99, 3658, 1392], y: [-8, 1], yMajor: b2YMajor, yMinor: b2YMinor,
    yTitle: TORS, yTitleX: 1897, tag: '(b2)', tagPos: [2693, 145], bd: 'Building Direction=12°', bdBox: [2890, 59, 3549, 153],
    legBox: [2173, 1058, 3168, 1367], legTitle: [2181, 1103],
    series: [
      { k: 'black', label: 'Δγ/2=0.346%', data: b2Black, lx: 2179, ly: 1178 },
      { k: 'red', label: 'Δγ/2=0.519%', data: b2Red, lx: 2179, ly: 1250 },
      { k: 'blue', label: 'Δγ/2=0.69%', data: b2Blue, lx: 2179, ly: 1323 },
      { k: 'green', label: 'Δγ/2=1.038%', data: b2Green, lx: 2675, ly: 1178 },
      { k: 'purple', label: 'Δγ/2=1.384%', data: b2Purple, lx: 2675, ly: 1250 },
      { k: 'gold', label: 'Δγ/2=2.076%', data: b2Gold, lx: 2650, ly: 1323 },
    ],
  },
  {
    id: 'c1', box: [0, 1600, 1860, 1600], plot: [263, 1690, 1848, 2962], y: [-30, 15], yMajor: c1YMajor, yMinor: c1YMinor,
    yTitle: AXIAL, yTitleX: 79, tag: '(c1)', tagPos: [918, 1759], bd: 'Building Direction=16°', bdBox: [1091, 1661, 1744, 1753],
    legBox: [290, 2712, 1113, 2962], legTitle: [297, 2757],
    series: [
      { k: 'black', label: 'Δε/2=0.40% with λ=0.865', data: c1Black, lx: 295, ly: 2830 },
      { k: 'red', label: 'Δε/2=0.60% with λ=0.865', data: c1Red, lx: 295, ly: 2902 },
    ],
  },
  {
    id: 'c2', box: [1855, 1600, 1852, 1600], plot: [2068, 1692, 3659, 2972], y: [-4, 1], yMajor: c2YMajor, yMinor: c2YMinor,
    yTitle: TORS, yTitleX: 1909, tag: '(c2)', tagPos: [2736, 1765], bd: 'Building Direction=16°', bdBox: [2908, 1661, 3564, 1755],
    legBox: [2093, 2724, 2623, 2954], legTitle: [2099, 2767],
    series: [
      { k: 'black', label: 'Δγ/2=0.346%', data: c2Black, lx: 2099, ly: 2841 },
      { k: 'red', label: 'Δγ/2=0.519%', data: c2Red, lx: 2099, ly: 2913 },
    ],
  },
  {
    id: 'd1', box: [0, 3200, 1860, 1589], plot: [239, 3271, 1810, 4533], y: [-25, 5], yMajor: d1YMajor, yMinor: d1YMinor,
    yTitle: AXIAL, yTitleX: 53, tag: '(d1)', tagPos: [887, 3336], bd: 'Building Direction=27°', bdBox: [1118, 3243, 1764, 3332],
    legBox: [267, 4276, 1054, 4504], legTitle: [274, 4321],
    series: [
      { k: 'black', label: 'Δε/2=0.40% with λ=1.73', data: d1Black, lx: 274, ly: 4392 },
      { k: 'red', label: 'Δε/2=0.60% with λ=1.73', data: d1Red, lx: 274, ly: 4464 },
    ],
  },
  {
    id: 'd2', box: [1855, 3200, 1852, 1589], plot: [2062, 3271, 3645, 4541], y: [-12, 2], yMajor: d2YMajor, yMinor: d2YMinor,
    yTitle: TORS, yTitleX: 1880, tag: '(d2)', tagPos: [2729, 3345], bd: 'Building Direction=27°', bdBox: [2902, 3243, 3552, 3335],
    legBox: [2095, 4282, 2623, 4512], legTitle: [2101, 4326],
    series: [
      { k: 'black', label: 'Δγ/2=0.69', data: d2Black, lx: 2101, ly: 4398 },
      { k: 'red', label: 'Δγ/2=1.04%', data: d2Red, lx: 2101, ly: 4470 },
    ],
  },
];

function drawMarker(ctx: CanvasRenderingContext2D, shape: string, x: number, y: number, r: number, rot: number) {
  ctx.beginPath();
  if (shape === 'circle') {
    ctx.arc(x, y, r, 0, Math.PI * 2);
  } else if (shape === 'rect') {
    const s = r * Math.SQRT1_2;
    ctx.rect(x - s, y - s, 2 * s, 2 * s);
  } else if (shape === 'rectRot') {
    ctx.moveTo(x - r, y);
    ctx.lineTo(x, y - r);
    ctx.lineTo(x + r, y);
    ctx.lineTo(x, y + r);
    ctx.closePath();
  } else {
    let a = (rot * Math.PI) / 180;
    for (let k = 0; k < 3; k++) {
      const px = x + Math.sin(a) * r;
      const py = y - Math.cos(a) * r;
      if (k === 0) ctx.moveTo(px, py);
      else ctx.lineTo(px, py);
      a += (2 * Math.PI) / 3;
    }
    ctx.closePath();
  }
  ctx.fill();
}

// line stops short of each symbol, like Origin's "gap to symbol"
const gapDash = (gap: number) => (c: any) => {
  const L = Math.hypot(c.p1.x - c.p0.x, c.p1.y - c.p0.y);
  return L > 2 * gap + 2 ? [0, gap, L - 2 * gap, 100000] : [0, 100000];
};

// grid, frame, ticks, titles, legend and labels
function decorPlugin(p: any) {
  const [bx, by] = p.box;
  return {
    id: 'decor_' + p.id,
    beforeDatasetsDraw(chart: any) {
      const { ctx, chartArea: a } = chart;
      const xs = chart.scales.x;
      const ys = chart.scales.y;
      ctx.save();
      ctx.lineWidth = 2.5;
      ctx.strokeStyle = '#8c8c8c';
      ctx.setLineDash([3, 5]);
      ctx.beginPath();
      xMinor.forEach((v) => { const px = xs.getPixelForValue(v); ctx.moveTo(px, a.top); ctx.lineTo(px, a.bottom); });
      p.yMinor.forEach((v: number) => { const py = ys.getPixelForValue(v); ctx.moveTo(a.left, py); ctx.lineTo(a.right, py); });
      ctx.stroke();
      ctx.setLineDash([]);
      ctx.strokeStyle = '#404040';
      ctx.beginPath();
      xMajor.forEach((v) => { const px = xs.getPixelForValue(v); ctx.moveTo(px, a.top); ctx.lineTo(px, a.bottom); });
      p.yMajor.forEach((v: number) => {
        if (v <= p.y[0] || v >= p.y[1]) return;
        const py = ys.getPixelForValue(v); ctx.moveTo(a.left, py); ctx.lineTo(a.right, py);
      });
      ctx.stroke();
      ctx.restore();
    },
    afterDatasetsDraw(chart: any) {
      const { ctx, chartArea: a } = chart;
      const xs = chart.scales.x;
      const ys = chart.scales.y;
      ctx.save();
      // frame
      ctx.strokeStyle = '#000';
      ctx.lineWidth = 7;
      ctx.strokeRect(a.left, a.top, a.right - a.left, a.bottom - a.top);
      // ticks: out on left/bottom, in on right/top
      ctx.lineWidth = 6;
      ctx.beginPath();
      const tx = (v: number, len: number) => {
        const px = xs.getPixelForValue(v);
        ctx.moveTo(px, a.bottom); ctx.lineTo(px, a.bottom + len);
        ctx.moveTo(px, a.top); ctx.lineTo(px, a.top + len);
      };
      const ty = (v: number, len: number) => {
        const py = ys.getPixelForValue(v);
        ctx.moveTo(a.left, py); ctx.lineTo(a.left - len, py);
        ctx.moveTo(a.right, py); ctx.lineTo(a.right - len, py);
      };
      xMajor.forEach((v) => tx(v, 24));
      xMinor.forEach((v) => tx(v, 14));
      p.yMajor.forEach((v: number) => ty(v, 24));
      p.yMinor.forEach((v: number) => ty(v, 14));
      ctx.stroke();

      // axis titles
      ctx.fillStyle = '#000';
      ctx.font = `72px ${SERIF}`;
      ctx.textAlign = 'center';
      ctx.textBaseline = 'middle';
      ctx.fillText('Normalized Cycle', (a.left + a.right) / 2, a.bottom + 168);
      ctx.save();
      ctx.translate(p.yTitleX - bx, (a.top + a.bottom) / 2);
      ctx.rotate(-Math.PI / 2);
      ctx.fillText(p.yTitle, 0, 0);
      ctx.restore();

      // panel tag
      ctx.textAlign = 'left';
      ctx.font = `100px ${SERIF}`;
      ctx.fillText(p.tag, p.tagPos[0] - bx, p.tagPos[1] - by);

      // building direction box
      const [q1, q2, q3, q4] = p.bdBox;
      ctx.fillStyle = '#fff';
      ctx.fillRect(q1 - bx, q2 - by, q3 - q1, q4 - q2);
      ctx.lineWidth = 5;
      ctx.strokeRect(q1 - bx, q2 - by, q3 - q1, q4 - q2);
      ctx.fillStyle = '#000';
      ctx.font = `66px ${SERIF}`;
      ctx.textAlign = 'center';
      ctx.fillText(p.bd, (q1 + q3) / 2 - bx, (q2 + q4) / 2 - by + 2);

      // legend
      const [l1, l2, l3, l4] = p.legBox;
      ctx.fillStyle = '#fff';
      ctx.fillRect(l1 - bx, l2 - by, l3 - l1, l4 - l2);
      ctx.lineWidth = 5;
      ctx.strokeRect(l1 - bx, l2 - by, l3 - l1, l4 - l2);
      ctx.fillStyle = '#000';
      ctx.textAlign = 'left';
      ctx.font = `59px ${SERIF}`;
      ctx.fillText('Proportional Loading', p.legTitle[0] - bx, p.legTitle[1] - by);
      p.series.forEach((s: any) => {
        const look = LOOK[s.k];
        const x0 = s.lx - bx;
        const y0 = s.ly - by;
        ctx.strokeStyle = look.color;
        ctx.fillStyle = look.color;
        ctx.lineWidth = 6;
        ctx.beginPath();
        ctx.moveTo(x0, y0);
        ctx.lineTo(x0 + 140, y0);
        ctx.stroke();
        drawMarker(ctx, look.shape, x0 + 70, y0, look.r, look.rot);
        ctx.fillStyle = '#000';
        ctx.fillText(s.label, x0 + 153, y0 + 2);
      });
      ctx.restore();
    },
  };
}

function Panel({ p }: { p: any }) {
  const ref = useRef<HTMLCanvasElement>(null);

  useEffect(() => {
    const [bx, by, bw, bh] = p.box;
    const [L, T, R, B] = p.plot;
    const n = p.series.length;
    const chart = new Chart(ref.current as HTMLCanvasElement, {
      type: 'scatter',
      data: {
        datasets: p.series.map((s: any, i: number) => {
          const look = LOOK[s.k];
          return {
            label: s.label,
            data: s.data.map(([x, y]: Pt) => ({ x, y })),
            showLine: true,
            tension: 0,
            borderColor: look.color,
            backgroundColor: look.color,
            borderWidth: 5,
            segment: { borderDash: gapDash(look.gap) },
            pointStyle: look.shape,
            pointRotation: look.rot,
            pointRadius: look.r,
            pointBackgroundColor: look.color,
            pointBorderColor: look.color,
            pointBorderWidth: 0,
            order: n - i,
          };
        }),
      },
      options: {
        responsive: false,
        animation: false,
        devicePixelRatio: 1,
        events: [],
        layout: { padding: { top: T - by, right: bx + bw - R, left: 0, bottom: 0 } },
        plugins: { legend: { display: false }, tooltip: { enabled: false } },
        scales: {
          x: {
            type: 'linear',
            min: -0.05,
            max: 1.05,
            grid: { display: false, drawTicks: false },
            border: { display: false },
            afterBuildTicks: (sc: any) => { sc.ticks = xMajor.map((v) => ({ value: v })); },
            afterFit: (sc: any) => { sc.height = by + bh - B; },
            ticks: {
              color: '#000',
              font: { family: SERIF, size: 66 },
              padding: 40,
              maxRotation: 0,
              autoSkip: false,
              callback: (v: any) => Number(v).toFixed(1),
            },
          },
          y: {
            type: 'linear',
            min: p.y[0],
            max: p.y[1],
            grid: { display: false, drawTicks: false },
            border: { display: false },
            afterBuildTicks: (sc: any) => { sc.ticks = p.yMajor.map((v: number) => ({ value: v })); },
            afterFit: (sc: any) => { sc.width = L - bx; },
            ticks: {
              color: '#000',
              font: { family: SERIF, size: 66 },
              padding: 46,
              autoSkip: false,
              callback: (v: any) => String(v),
            },
          },
        },
      } as any,
      plugins: [decorPlugin(p)],
    });
    return () => chart.destroy();
  }, [p]);

  return (
    <canvas
      ref={ref}
      width={p.box[2]}
      height={p.box[3]}
      style={{ position: 'absolute', left: p.box[0], top: p.box[1] }}
    />
  );
}

export default function App() {
  useEffect(() => {
    document.body.style.margin = '0';
  }, []);
  return (
    <div style={{ position: 'relative', width: 3707, height: 4789, background: '#fff', overflow: 'hidden' }}>
      {PANELS.map((p) => (
        <Panel key={p.id} p={p} />
      ))}
    </div>
  );
}
